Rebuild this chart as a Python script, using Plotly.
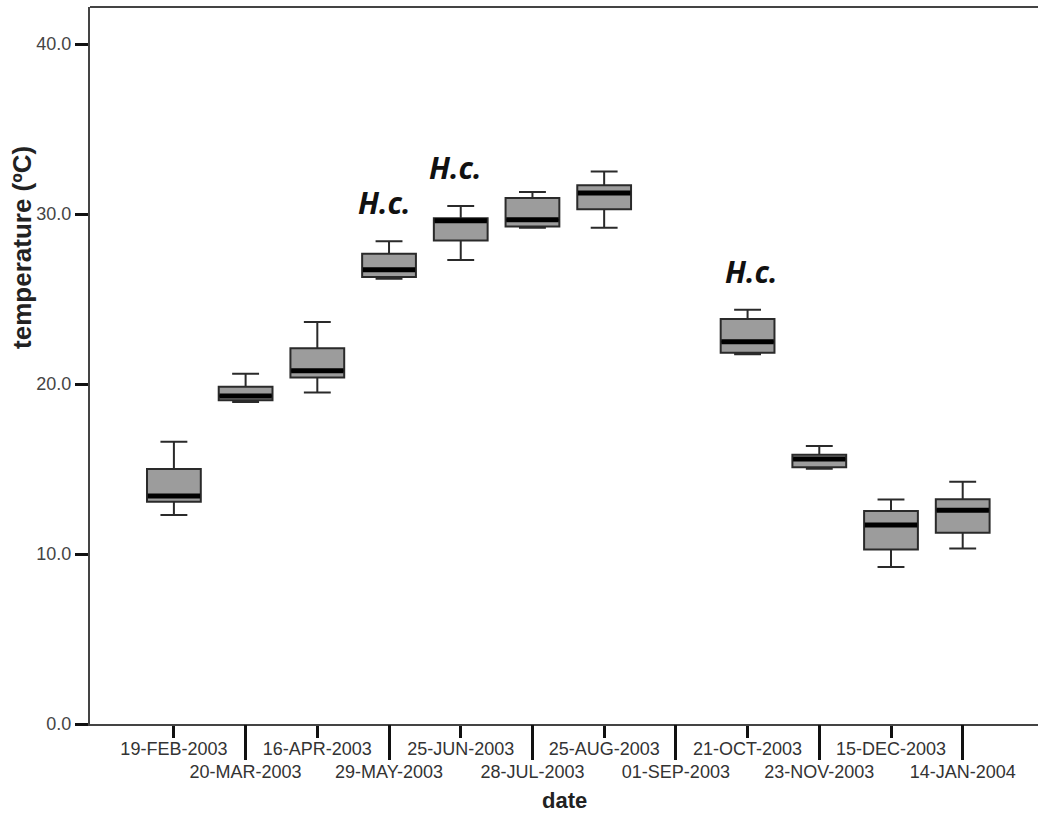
import plotly.graph_objects as go

# ---- data ----
dates = ["19-FEB-2003", "20-MAR-2003", "16-APR-2003", "29-MAY-2003",
         "25-JUN-2003", "28-JUL-2003", "25-AUG-2003", "01-SEP-2003",
         "21-OCT-2003", "23-NOV-2003", "15-DEC-2003", "14-JAN-2004"]
lower = [12.3, 18.95, 19.5, 26.2, 27.3, 29.2, 29.2, None, 21.75, 15.02, 9.24, 10.33]
q1 = [13.08, 19.05, 20.38, 26.3, 28.45, 29.27, 30.28, None, 21.84, 15.1, 10.27, 11.25]
median = [13.42, 19.3, 20.78, 26.72, 29.6, 29.67, 31.24, None, 22.49, 15.59, 11.7, 12.57]
q3 = [15.0, 19.84, 22.1, 27.66, 29.75, 30.94, 31.7, None, 23.82, 15.84, 12.53, 13.22]
upper = [16.6, 20.6, 23.65, 28.4, 30.47, 31.3, 32.5, None, 24.37, 16.35, 13.2, 14.25]
hc_dates = ["29-MAY-2003", "25-JUN-2003", "21-OCT-2003"]
y_ticks = [0, 10, 20, 30, 40]

# ---- build ----
idx = [i for i, m in enumerate(median) if m is not None]
BOXW = 0.75

fig = go.Figure()
fig.add_trace(go.Box(
    x=idx,
    q1=[q1[i] for i in idx],
    median=[median[i] for i in idx],
    q3=[q3[i] for i in idx],
    lowerfence=[lower[i] for i in idx],
    upperfence=[upper[i] for i in idx],
    width=BOXW,
    whiskerwidth=0.5,
    fillcolor="#9c9c9c",
    line=dict(color="#2a2a2a", width=2),
    boxpoints=False,
    hoverinfo="skip",
    showlegend=False,
))

mx, my = [], []
for i in idx:
    mx += [i - BOXW / 2 + 0.01, i + BOXW / 2 - 0.01, None]
    my += [median[i], median[i], None]
fig.add_trace(go.Scatter(x=mx, y=my, mode="lines",
                         line=dict(color="black", width=5),
                         hoverinfo="skip", showlegend=False))

# invisible trace for overlay axis (long ticks)
fig.add_trace(go.Scatter(x=[0], y=[0], xaxis="x2", mode="markers",
                         marker=dict(opacity=0), hoverinfo="skip",
                         showlegend=False))

ticktext = [d if i % 2 == 0 else "<br>" + d for i, d in enumerate(dates)]
xr = [-1.17, 12.05]

for d in hc_dates:
    i = dates.index(d)
    fig.add_annotation(x=i, y=upper[i] + 2.25, text="<b><i>H.c.</i></b>",
                       showarrow=False, xanchor="center", yanchor="middle",
                       xshift=-5 if i < 7 else 4,
                       font=dict(family="Open Sans", size=30, color="#111111"))

# axis titles as annotations for exact placement
fig.add_annotation(xref="paper", yref="paper", x=-0.072, y=0.665,
                   text="<b>temperature (ºC)</b>", textangle=-90,
                   showarrow=False, xanchor="center", yanchor="middle",
                   font=dict(size=26, color="#222222"))
fig.add_annotation(xref="paper", yref="paper", x=0.501, y=-0.106,
                   text="<b>date</b>", showarrow=False,
                   xanchor="center", yanchor="middle",
                   font=dict(size=22, color="#222222"))

fig.add_shape(type="line", xref="paper", yref="paper", x0=0, x1=1, y0=1, y1=1,
              line=dict(color="#444444", width=2))

fig.update_layout(
    width=1038, height=815,
    margin=dict(l=90, r=0, t=7, b=91, autoexpand=False),
    paper_bgcolor="white", plot_bgcolor="white",
    font=dict(family="Liberation Sans, Arial", color="#333333"),
    xaxis=dict(
        range=xr, tickmode="array", tickvals=list(range(len(dates))),
        ticktext=ticktext, tickangle=0, ticks="outside", ticklen=12, tickwidth=2.5,
        tickcolor="#111111", showline=True, linecolor="#444444", linewidth=2,
        showgrid=False, zeroline=False, automargin=False,
        ticklabelstandoff=-5,
        tickfont=dict(size=18, color="#333333"),
    ),
    xaxis2=dict(
        range=xr, overlaying="x", anchor="y", side="bottom",
        tickmode="array", tickvals=[i for i in range(len(dates)) if i % 2 == 1],
        ticks="outside", ticklen=35, tickwidth=2.5, tickcolor="#111111",
        showticklabels=False, showline=False, showgrid=False, zeroline=False,
        automargin=False,
    ),
    yaxis=dict(
        range=[0, 42.18], tickmode="array", tickvals=y_ticks,
        ticktext=[f"{v:.1f}" for v in y_ticks], ticks="outside", ticklen=13,
        tickwidth=2.5, tickcolor="#111111", showline=True,
        linecolor="#444444", linewidth=2, showgrid=False, zeroline=False,
        automargin=False,
        tickfont=dict(size=18, color="#444444"),
    ),
)

fig.write_html("out.html", config={"displayModeBar": False},
               post_script="document.body.style.margin='0';")
